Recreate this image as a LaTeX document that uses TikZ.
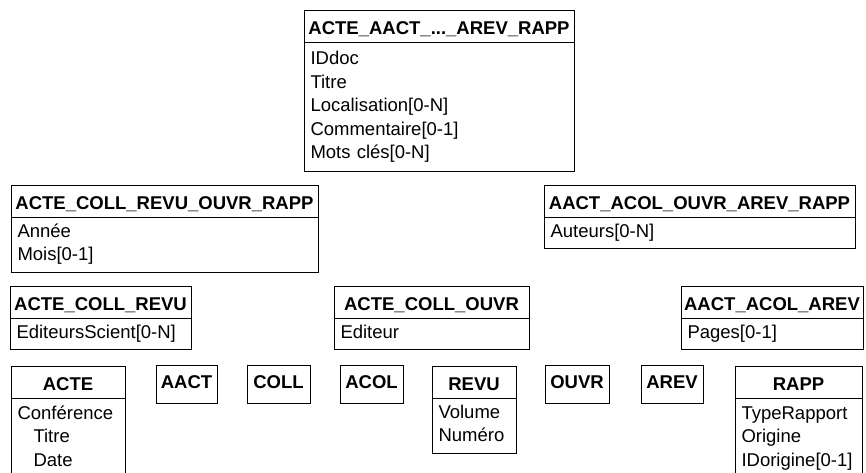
\documentclass[tikz,border=0pt]{standalone}
\usepackage{fontspec}
\setmainfont{Liberation Sans}
\usetikzlibrary{positioning}
\newcommand{\boxfont}{\fontsize{18.5}{23.5}\selectfont}
\tikzset{
  head/.style = {draw, line width=1pt, font=\boxfont\bfseries,
                 text height=24pt, text depth=8pt,
                 inner xsep=2pt, inner ysep=0pt, outer sep=0pt,
                 anchor=north west},
  leaf/.style = {head, text height=23pt, text depth=15pt, inner xsep=4pt},
  attr/.style = {draw, line width=1pt, font=\boxfont, align=left,
                 inner xsep=6.5pt, inner ysep=0pt, outer sep=0pt,
                 anchor=north west,
                 execute at begin node=\strut, execute at end node=\strut}
}
\begin{document}
\begin{tikzpicture}[x=1pt, y=-1pt]
	\useasboundingbox (0,0) rectangle (866,473);
	\def \ind{\hspace*{16pt}}

	% Common to all documents
	\node[head, minimum width=270pt] (all) at (304,11) {ACTE\_AACT\_...\_AREV\_RAPP};
	\node[attr, text width=257pt, minimum height=128pt] (all-attr) at (all.south west)
		{IDdoc\\Titre\\Localisation[0-N]\\Commentaire[0-1]\\Mots clés[0-N]};

	% Second level
	\node[head, minimum width=307pt] (date) at (11,185) {ACTE\_COLL\_REVU\_OUVR\_RAPP};
	\node[attr, text width=294pt, minimum height=55pt] (date-attr) at (date.south west)
		{Année\\Mois[0-1]};

	\node[head, minimum width=311pt] (auth) at (544,185) {AACT\_ACOL\_OUVR\_AREV\_RAPP};
	\node[attr, text width=298pt, minimum height=31pt] (auth-attr) at (auth.south west)
		{Auteurs[0-N]};

	% Third level
	\node[head, minimum width=181pt] (edsci) at (10,286) {ACTE\_COLL\_REVU};
	\node[attr, text width=168pt, minimum height=31pt] (edsci-attr) at (edsci.south west)
		{EditeursScient[0-N]};

	\node[head, minimum width=195pt] (ed) at (334,286) {ACTE\_COLL\_OUVR};
	\node[attr, text width=182pt, minimum height=31pt] (ed-attr) at (ed.south west)
		{Editeur};

	\node[head, minimum width=182pt] (pages) at (681,286) {AACT\_ACOL\_AREV};
	\node[attr, text width=169pt, minimum height=31pt] (pages-attr) at (pages.south west)
		{Pages[0-1]};

	% Document types
	\node[head, minimum width=114pt] (acte) at (11,366) {ACTE};
	\node[attr, text width=101pt, minimum height=80pt] (acte-attr) at (acte.south west)
		{Conférence\\\ind Titre\\\ind Date};

	\node[leaf, minimum width=61pt] (aact) at (156,365) {AACT};
	\node[leaf, minimum width=63pt] (coll) at (247,365) {COLL};
	\node[leaf, minimum width=63pt] (acol) at (340,365) {ACOL};

	\node[head, minimum width=84pt] (revu) at (432,366) {REVU};
	\node[attr, text width=71pt, minimum height=55pt] (revu-attr) at (revu.south west)
		{Volume\\Numéro};

	\node[leaf, minimum width=64pt] (ouvr) at (545,365) {OUVR};
	\node[leaf, minimum width=62pt] (arev) at (641,365) {AREV};

	\node[head, minimum width=127pt] (rapp) at (735,366) {RAPP};
	\node[attr, text width=114pt, minimum height=80pt] (rapp-attr) at (rapp.south west)
		{TypeRapport\\Origine\\IDorigine[0-1]};

\end{tikzpicture}
\end{document}
